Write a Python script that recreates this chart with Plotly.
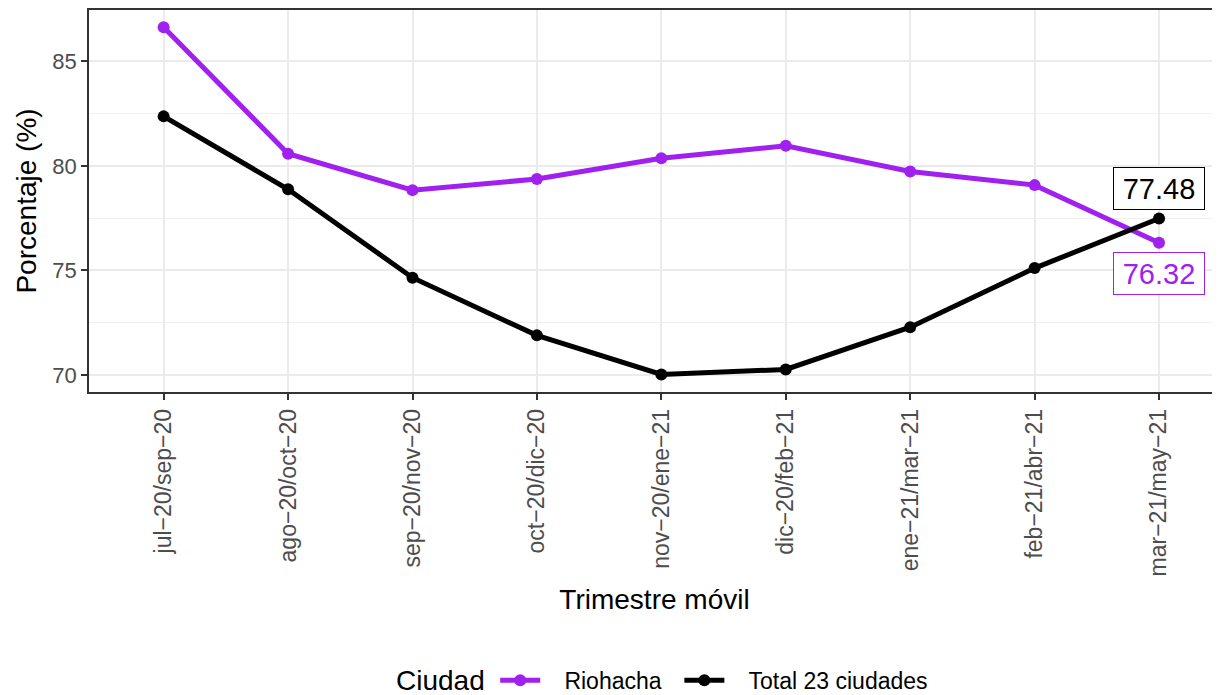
import plotly.graph_objects as go

trimestres = ["jul−20/sep−20", "ago−20/oct−20", "sep−20/nov−20", "oct−20/dic−20",
              "nov−20/ene−21", "dic−20/feb−21", "ene−21/mar−21", "feb−21/abr−21",
              "mar−21/may−21"]
riohacha = [86.63, 80.58, 78.84, 79.37, 80.37, 80.96, 79.73, 79.08, 76.32]
total23 = [82.37, 78.88, 74.65, 71.89, 70.02, 70.26, 72.28, 75.11, 77.48]
y_ticks = [70, 75, 80, 85]
series_names = ["Riohacha", "Total 23 ciudades"]
legend_title = "Ciudad"

PURPLE = "#A020F0"
BLACK = "#000000"
FONT = "Liberation Sans, Arial, sans-serif"
NB = "\u00a0"

# page body has an 8px margin: figure is drawn 8px right/down of the window origin
W, H = 1212, 687

fig = go.Figure()
fig.add_trace(go.Scatter(
    x=list(range(len(trimestres))), y=riohacha, mode="lines+markers",
    name=NB * 3 + series_names[0] + NB * 2,
    line=dict(color=PURPLE, width=5), marker=dict(color=PURPLE, size=12)))
fig.add_trace(go.Scatter(
    x=list(range(len(trimestres))), y=total23, mode="lines+markers",
    name=NB * 3 + series_names[1],
    line=dict(color=BLACK, width=5), marker=dict(color=BLACK, size=12)))

last = len(trimestres) - 1
fig.add_annotation(x=last, y=total23[-1], text=f"{total23[-1]:.2f}", showarrow=False,
                   yshift=30.5, font=dict(family=FONT, size=29, color=BLACK),
                   bgcolor="white", bordercolor=BLACK, borderwidth=1, borderpad=3,
                   width=84, height=35)
fig.add_annotation(x=last, y=riohacha[-1], text=f"{riohacha[-1]:.2f}", showarrow=False,
                   yshift=-30.5, font=dict(family=FONT, size=29, color=PURPLE),
                   bgcolor="white", bordercolor=PURPLE, borderwidth=1, borderpad=3,
                   width=84, height=35)
# legend title
fig.add_annotation(xref="paper", yref="paper", x=0.3112, y=-0.7565,
                   xanchor="center", yanchor="middle", text=legend_title,
                   showarrow=False, font=dict(family=FONT, size=28, color=BLACK))

fig.update_layout(
    width=W, height=H,
    margin=dict(l=81, r=0, t=2, b=303, autoexpand=False),
    paper_bgcolor="white", plot_bgcolor="white",
    font=dict(family=FONT, color=BLACK),
    showlegend=True,
    legend=dict(orientation="h", xref="container", yref="container",
                x=0.402, xanchor="left", y=0.0214, yanchor="middle",
                font=dict(size=23, color=BLACK), itemwidth=40, tracegroupgap=0),
)
fig.update_xaxes(
    range=[-0.6, 8.49], tickmode="array", tickvals=list(range(len(trimestres))),
    ticktext=trimestres, tickangle=-90, tickfont=dict(size=23, color="#4D4D4D"),
    showgrid=True, gridcolor="#EBEBEB", gridwidth=2,
    showline=True, linecolor="#333333", linewidth=1.5, mirror=True,
    ticks="outside", ticklen=6, tickcolor="#333333", tickwidth=1.5,
    zeroline=False, automargin=False,
    title=dict(text="Trimestre móvil", font=dict(size=28, color=BLACK), standoff=14),
)
fig.update_yaxes(
    range=[69.18, 87.46], tickmode="array", tickvals=y_ticks,
    tickfont=dict(size=22, color="#4D4D4D"),
    showgrid=True, gridcolor="#EBEBEB", gridwidth=2,
    minor=dict(tickmode="array", tickvals=[72.5, 77.5, 82.5], showgrid=True,
               gridcolor="#F0F0F0", gridwidth=1),
    showline=True, linecolor="#333333", linewidth=1.5, mirror=False,
    ticks="outside", ticklen=6, tickcolor="#333333", tickwidth=1.5,
    zeroline=False, automargin=False,
    title=dict(text="Porcentaje (%)", font=dict(size=28, color=BLACK), standoff=8),
)

fig.write_html("out.html")
